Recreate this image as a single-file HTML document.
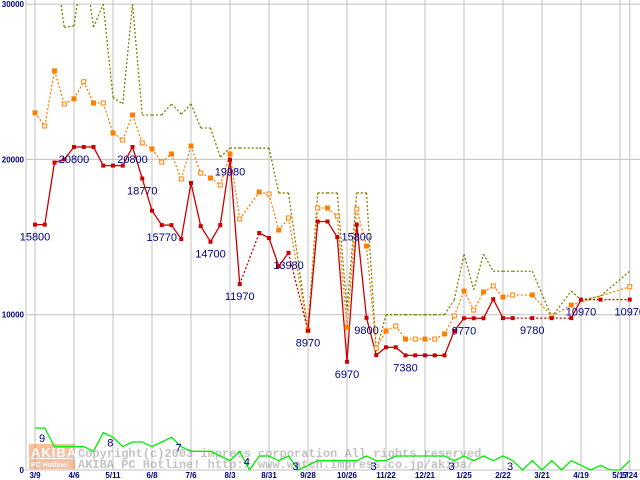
<!DOCTYPE html>
<html><head><meta charset="utf-8"><style>
html,body{margin:0;padding:0;background:#fff;width:640px;height:480px;overflow:hidden}
svg{display:block}
text{font-family:"Liberation Sans",sans-serif}
text.mono{font-family:"Liberation Mono",monospace}
</style></head><body>
<svg id="chart" width="640" height="480" viewBox="0 0 640 480" xmlns="http://www.w3.org/2000/svg">
<g id="grid"></g>
<g id="watermark" opacity="0.5">
<rect x="29" y="444" width="46" height="14" fill="#f08040"/>
<rect x="29" y="459" width="46" height="10" fill="#f08040"/>
<text x="31" y="457" font-size="13" font-weight="bold" fill="#fff" letter-spacing="1">AKIBA</text>
<text x="31" y="467" font-size="7" font-weight="bold" fill="#fff">PC Hotline!</text>
<text class="mono" x="78" y="457" font-size="12" fill="#888" font-weight="bold">Copyright(c)2003 impress corporation All rights reserved.</text>
<text class="mono" x="78" y="468" font-size="12" fill="#888" font-weight="bold">AKIBA PC Hotline!  http://www.watch.impress.co.jp/akiba/</text>
</g>
<g id="series"></g>
<g id="labels"></g>
</svg>
<script>
const minIdx=[0,1,2,3,4,5,6,7,8,9,10,11,12,13,14,15,16,17,18,19,20,21,23,24,25,26,28,29,30,31,32,33,34,35,36,37,38,39,40,41,42,43,44,45,46,47,48,49,51,53,55,56,58,61];
const minVals=[15800,15800,19800,20000,20800,20800,20800,19600,19600,19600,20800,18770,16700,15770,15770,14870,18480,15700,14700,15770,19980,11970,15260,14940,13130,13980,8970,16000,16000,15000,6970,15800,9800,7400,7900,7900,7380,7380,7380,7380,7380,8950,9770,9770,9770,11000,9780,9780,9780,9780,9780,10970,10970,10970];
const avgIdx=[0,1,2,3,4,5,6,7,8,9,10,11,12,13,14,15,16,17,18,19,20,21,23,24,25,26,28,29,30,31,32,33,34,35,36,37,38,39,40,41,42,43,44,45,46,47,48,49,51,53,55,61];
const avgVals=[23000,22150,25700,23570,23900,25000,23630,23630,21700,21250,22860,21060,20670,19830,20350,18740,20860,19120,18800,18350,20350,16160,17900,17770,15450,16230,9000,16870,16870,16350,9200,16800,14420,7850,8950,9270,8430,8430,8430,8430,8760,9920,11520,10300,11460,11850,11140,11270,11270,9920,10620,11800];
const maxIdx=[0,1,2,3,4,5,6,7,8,9,10,11,12,13,14,15,16,17,18,19,20,21,23,24,25,26,28,29,30,31,32,33,34,35,36,37,38,39,40,41,42,43,44,45,46,47,48,49,51,53,55,56,58,61];
const maxVals=[33000,30000,33000,28500,28600,33000,28500,30000,24000,23570,30000,22860,22860,22860,23570,22920,23570,22020,22020,20150,20730,20730,20730,20730,17840,17840,9000,17840,17840,17840,10300,17840,17840,7650,10000,10000,10000,10000,10000,10000,10000,10950,13900,11600,13900,12800,12800,12800,12800,9850,11520,10950,11200,12800];
const countVals=[9,9,5,5,5,5,4,8,7,5,6,6,5,6,7,5,4,4,4,3,2,4,0,3,3,2,3,0,1,2,2,2,2,2,3,2,2,3,3,3,3,3,3,2,3,2,3,2,3,2,0,2,0,2,0,2,1,0,1,0,0,2];
const yTicks=[0,10000,20000,30000];
const xLabels=["3/9","4/6","5/11","6/8","7/6","8/3","8/31","9/28","10/26","11/22","12/21","1/25","2/22","3/21","4/19","5/17"];
const lastLabel="5/24";
const priceLabels=[[0,15800],[4,20800],[10,20800],[11,18770],[13,15770],[18,14700],[20,19980],[21,11970],[26,13980],[28,8970],[33,15800],[32,6970],[34,9800],[38,7380],[44,9770],[51,9780],[56,10970],[61,10970]];
const countLabels=[[0,9],[7,8],[14,7],[21,4],[26,3],[34,3],[42,3],[48,3]];

const NS="http://www.w3.org/2000/svg";
const X=i=>35+i*9.75;
const Y=v=>470-v*0.01553;
const YC=c=>470-c*4.67;
function mk(p,tag,a){const e=document.createElementNS(NS,tag);for(const k in a)e.setAttribute(k,a[k]);p.appendChild(e);return e;}
const grid=document.getElementById('grid'),ser=document.getElementById('series'),lab=document.getElementById('labels');
const defs=mk(document.getElementById('chart'),'defs',{});
const cp=mk(defs,'clipPath',{id:'clip'});mk(cp,'rect',{x:26,y:4,width:614,height:470});
ser.setAttribute('clip-path','url(#clip)');

mk(grid,'line',{x1:26,y1:0,x2:26,y2:470,stroke:'#c0c0c0'});
yTicks.forEach(t=>{
 const l=mk(grid,'line',{x1:26,y1:Y(t),x2:640,y2:Y(t),stroke:'#c0c0c0'});
 
 
 const tx=mk(grid,'text',{x:24,y:Y(t)+3,'font-size':8,'font-weight':'bold',fill:'#000080','text-anchor':'end'});
 tx.textContent=t;
 
 
});
xLabels.forEach((s,k)=>{
 const x=X(k*4);
 const l=mk(grid,'line',{x1:x,y1:0,x2:x,y2:470,stroke:'#c0c0c0'});
 
 
 const tx=mk(grid,'text',{x:x,y:478,'font-size':8,'font-weight':'bold',fill:'#000080','text-anchor':'middle'});
 tx.textContent=s;
 
 
});
{const x=X(61);mk(grid,'line',{x1:x,y1:0,x2:x,y2:470,stroke:'#c0c0c0'});
 const tx=mk(grid,'text',{x:x,y:478,'font-size':8,'font-weight':'bold',fill:'#000080','text-anchor':'middle'});tx.textContent=lastLabel;
 
 }

function drawSeries(idx,vals,color,dash,name){
 for(let k=1;k<idx.length;k++){
  const gap=idx[k]-idx[k-1]>1;
  const a={x1:X(idx[k-1]),y1:Y(vals[k-1]),x2:X(idx[k]),y2:Y(vals[k]),stroke:color,'stroke-width':1.3};
  if(dash)a['stroke-dasharray']=dash; else if(gap)a['stroke-dasharray']='2 2';
  const l=mk(ser,'line',a);
  
  
 }
}
drawSeries(maxIdx,maxVals,'#808000','2 2','max-price');
drawSeries(avgIdx,avgVals,'#ff8000','2 2','avg-price');
drawSeries(minIdx,minVals,'#cc0000',null,'min-price');
avgIdx.forEach((i,k)=>{
 const r=mk(ser,'rect',{x:X(i)-2,y:Y(avgVals[k])-2,width:4,height:4,fill:k%2?'#fff':'#ff8000',stroke:'#ff8000','stroke-width':1});
 
 
});
minIdx.forEach((i,k)=>{
 const r=mk(ser,'rect',{x:X(i)-2,y:Y(minVals[k])-2,width:4,height:4,fill:'#cc0000'});
 
 
});
const pts=countVals.map((c,i)=>X(i)+','+YC(c)).join(' ');
const pl=mk(ser,'polyline',{points:pts,fill:'none',stroke:'#00ee00','stroke-width':1.3});



priceLabels.forEach(([i,v])=>{
 const t=mk(lab,'text',{x:X(i),y:Y(v)+16,'font-size':11,fill:'#000080','text-anchor':'middle'});
 t.textContent=v;
 
 
});
countLabels.forEach(([i,c])=>{
 const t=mk(lab,'text',{x:X(i)+7,y:YC(countVals[i])+14,'font-size':11,fill:'#000080','text-anchor':'middle'});
 t.textContent=c;
 
 
});
</script>
</body></html>
